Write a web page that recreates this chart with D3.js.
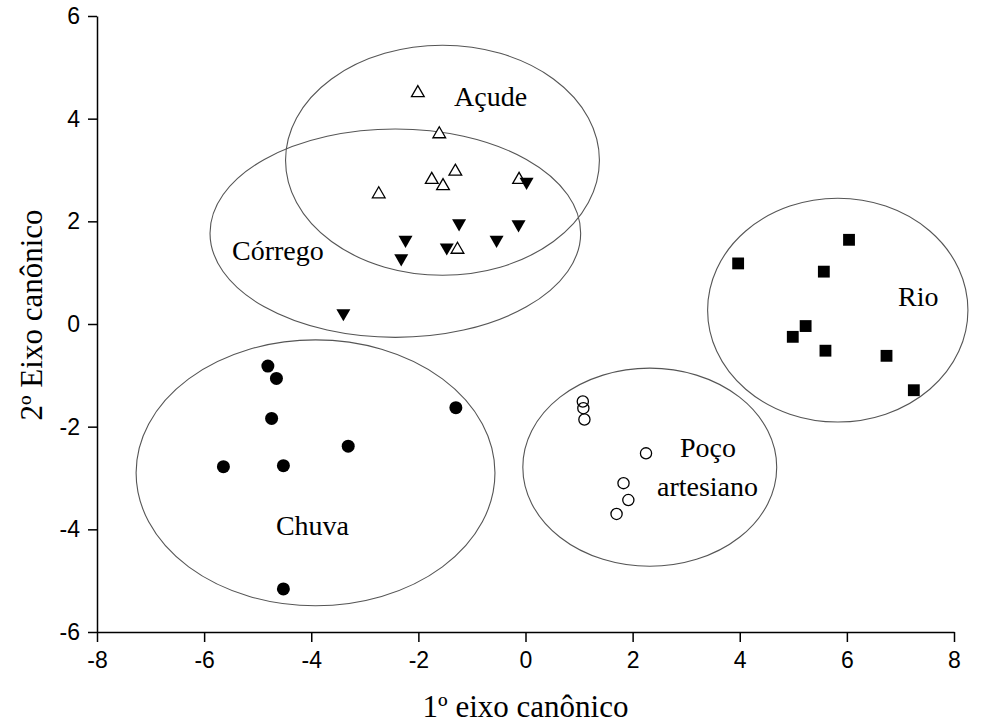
<!DOCTYPE html>
<html>
<head>
<meta charset="utf-8">
<script src="https://cdn.jsdelivr.net/npm/d3@7"></script>
<style>
  body { margin: 0; background: #fff; }
  .axis path, .axis line { stroke: #000; stroke-width: 1.5px; }
  .axis text { font-family: "Liberation Sans", Arial, sans-serif; font-size: 23px; fill: #000; }
  .title { font-family: "Liberation Serif", "Times New Roman", serif; font-size: 31px; fill: #000; }
  .group-label { font-family: "Liberation Serif", "Times New Roman", serif; font-size: 28px; fill: #000; }
</style>
</head>
<body>
<div id="chart"></div>
<script>
// canonical scores, [x, y]
var acude = [[-2.01, 4.50], [-1.61, 3.70], [-2.74, 2.53], [-1.75, 2.81],
             [-1.54, 2.69], [-1.31, 2.97], [-0.12, 2.81], [-1.27, 1.45]];
var corrego = [[0.02, 2.77], [-1.24, 1.96], [-0.13, 1.94], [-0.54, 1.64],
               [-2.24, 1.64], [-1.47, 1.49], [-2.32, 1.28], [-3.40, 0.21]];
var chuva = [[-4.81, -0.82], [-4.65, -1.06], [-4.74, -1.84], [-1.30, -1.63],
             [-3.31, -2.38], [-5.64, -2.78], [-4.52, -2.76], [-4.52, -5.16]];
var poco = [[1.07, -1.51], [1.08, -1.64], [1.10, -1.86], [2.25, -2.52],
            [1.83, -3.10], [1.92, -3.43], [1.70, -3.70]];
var rio = [[3.97, 1.18], [6.04, 1.64], [5.57, 1.02], [5.23, -0.04],
           [4.99, -0.25], [5.60, -0.52], [6.74, -0.62], [7.25, -1.29]];

// group ellipses: [cx, cy, rx, ry] in axis units
var ellipses = [[-1.55, 3.19, 2.93, 2.24], [-2.43, 1.77, 3.46, 2.03],
                [-3.92, -2.90, 3.35, 2.59], [2.32, -2.79, 2.37, 1.93],
                [5.83, 0.27, 2.43, 2.18]];

// group names and where they sit, in axis units
var labels = [["Açude", -1.335, 4.25], ["Córrego", -5.48, 1.25], ["Chuva", -4.66, -4.11],
              ["Poço", 2.885, -2.59], ["artesiano", 2.455, -3.35], ["Rio", 6.955, 0.35]];

var xTicks = [-8, -6, -4, -2, 0, 2, 4, 6, 8];
var yTicks = [-6, -4, -2, 0, 2, 4, 6];

var W = 989, H = 727;
var margin = {left: 97, top: 16, right: 35, bottom: 95};

var svg = d3.select("#chart").append("svg")
    .attr("width", W)
    .attr("height", H);

var xScale = d3.scaleLinear().domain([-8, 8]).range([margin.left, W - margin.right]);
var yScale = d3.scaleLinear().domain([-6, 6]).range([H - margin.bottom, margin.top]);

// ellipses first so the markers sit on top
svg.selectAll("ellipse")
    .data(ellipses)
    .enter()
    .append("ellipse")
    .attr("cx", d => xScale(d[0]))
    .attr("cy", d => yScale(d[1]))
    .attr("rx", d => xScale(d[2]) - xScale(0))
    .attr("ry", d => yScale(0) - yScale(d[3]))
    .attr("fill", "none")
    .attr("stroke", "#555")
    .attr("stroke-width", 1.1);

var tri = d3.symbol().type(d3.symbolTriangle).size(70);
var sq = d3.symbol().type(d3.symbolSquare).size(140);

// Açude: open triangles
svg.selectAll("path.acude")
    .data(acude)
    .enter()
    .append("path")
    .attr("class", "acude")
    .attr("d", tri)
    .attr("transform", d => `translate(${xScale(d[0])},${yScale(d[1])})`)
    .attr("fill", "#fff")
    .attr("stroke", "#000")
    .attr("stroke-width", 1.3);

// Córrego: filled down triangles
svg.selectAll("path.corrego")
    .data(corrego)
    .enter()
    .append("path")
    .attr("class", "corrego")
    .attr("d", d3.symbol().type(d3.symbolTriangle).size(85))
    .attr("transform", d => `translate(${xScale(d[0])},${yScale(d[1])}) rotate(180)`)
    .attr("fill", "#000");

// Chuva: filled circles
svg.selectAll("circle.chuva")
    .data(chuva)
    .enter()
    .append("circle")
    .attr("class", "chuva")
    .attr("cx", d => xScale(d[0]))
    .attr("cy", d => yScale(d[1]))
    .attr("r", 6.5)
    .attr("fill", "#000");

// Poço artesiano: open circles
svg.selectAll("circle.poco")
    .data(poco)
    .enter()
    .append("circle")
    .attr("class", "poco")
    .attr("cx", d => xScale(d[0]))
    .attr("cy", d => yScale(d[1]))
    .attr("r", 5.6)
    .attr("fill", "none")
    .attr("stroke", "#000")
    .attr("stroke-width", 1.3);

// Rio: filled squares
svg.selectAll("path.rio")
    .data(rio)
    .enter()
    .append("path")
    .attr("class", "rio")
    .attr("d", sq)
    .attr("transform", d => `translate(${xScale(d[0])},${yScale(d[1])})`)
    .attr("fill", "#000");

svg.selectAll("text.group-label")
    .data(labels)
    .enter()
    .append("text")
    .attr("class", "group-label")
    .attr("x", d => xScale(d[1]))
    .attr("y", d => yScale(d[2]))
    .text(d => d[0]);

// axes, plain hyphen for negatives like the original
var fmt = d => String(d);
var xAxis = d3.axisBottom(xScale).tickValues(xTicks).tickFormat(fmt)
    .tickSize(10).tickPadding(10).tickSizeOuter(0);
var yAxis = d3.axisLeft(yScale).tickValues(yTicks).tickFormat(fmt)
    .tickSize(9).tickPadding(8).tickSizeOuter(0);

svg.append("g")
    .attr("class", "axis")
    .attr("transform", `translate(0,${H - margin.bottom})`)
    .call(xAxis);

svg.append("g")
    .attr("class", "axis")
    .attr("transform", `translate(${margin.left},0)`)
    .call(yAxis);

// axis titles
svg.append("text")
    .attr("class", "title")
    .attr("text-anchor", "middle")
    .attr("x", xScale(0))
    .attr("y", 717)
    .text("1º eixo canônico");

svg.append("text")
    .attr("class", "title")
    .attr("text-anchor", "middle")
    .attr("transform", `translate(42,${yScale(0) - 9}) rotate(-90)`)
    .text("2º Eixo canônico");
</script>
</body>
</html>
